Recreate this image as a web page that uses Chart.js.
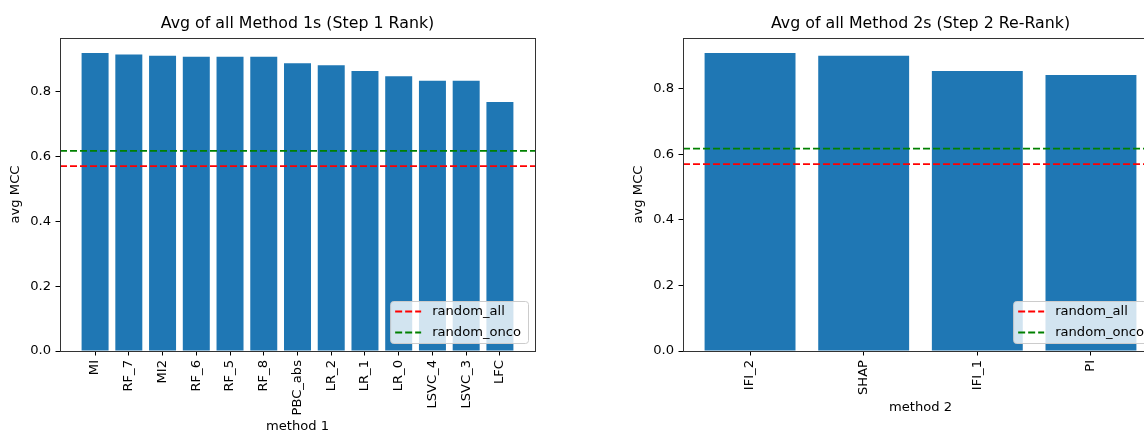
<!DOCTYPE html>
<html>
<head>
<meta charset="utf-8">
<script src="https://cdn.jsdelivr.net/npm/chart.js@4.4.0/dist/chart.umd.min.js"></script>
<style>
html,body{margin:0;padding:0;background:#fff;overflow:hidden;width:1144px;height:433px;position:relative}
#c1{position:absolute;left:0;top:0}
#c2{position:absolute;left:623px;top:0}
</style>
</head>
<body>
<canvas id="c1" width="545" height="433"></canvas>
<canvas id="c2" width="545" height="433"></canvas>
<script>
// values
const m1Labels = ['MI','RF_7','MI2','RF_6','RF_5','RF_8','PBC_abs','LR_2','LR_1','LR_0','LSVC_4','LSVC_3','LFC'];
const m1Values = [0.919,0.914,0.910,0.907,0.907,0.907,0.887,0.881,0.863,0.847,0.833,0.833,0.768];
const m2Labels = ['IFI_2','SHAP','IFI_1','PI'];
const m2Values = [0.909,0.900,0.854,0.842];
const randomAll = 0.570;
const randomOnco = 0.617;
const yTicks = [0.0,0.2,0.4,0.6,0.8];

const FONT = 'DejaVu Sans';
const FS = 13.1;
Chart.defaults.font.family = FONT;
Chart.defaults.color = '#000';

// title centred over the plot area (like matplotlib)
const titlePlugin = {
  id: 'axTitle',
  afterDraw(chart, args, opts) {
    const {ctx, chartArea} = chart;
    ctx.save();
    ctx.font = '15.8px ' + FONT;
    ctx.fillStyle = '#000';
    ctx.textAlign = 'center';
    ctx.textBaseline = 'middle';
    ctx.fillText(opts.text, (chartArea.left + chartArea.right) / 2, 24);
    ctx.restore();
  }
};

// four spines + legend box in lower right
const framePlugin = {
  id: 'frame',
  afterDatasetsDraw(chart) {
    const {ctx, chartArea} = chart;
    ctx.save();
    ctx.strokeStyle = '#333';
    ctx.lineWidth = 1;
    ctx.strokeRect(Math.round(chartArea.left) + 0.5, Math.round(chartArea.top) + 0.5,
      Math.round(chartArea.right - chartArea.left), Math.round(chartArea.bottom - chartArea.top));

    // legend
    const items = chart.data.datasets.filter(d => d.type === 'line');
    ctx.font = FS + 'px ' + FONT;
    let tw = 0;
    items.forEach(d => { tw = Math.max(tw, ctx.measureText(d.label).width); });
    const w = tw + 49, h = 42;
    const x = chartArea.right - 7 - w, y = chartArea.bottom - 8 - h;
    ctx.beginPath();
    ctx.roundRect(x + 0.5, y + 0.5, w, h, 3);
    ctx.fillStyle = 'rgba(255,255,255,0.8)';
    ctx.fill();
    ctx.strokeStyle = '#cccccc';
    ctx.stroke();
    items.forEach((d, i) => {
      const cy = y + 10.5 + i * 21;
      ctx.beginPath();
      ctx.setLineDash(d.borderDash);
      ctx.strokeStyle = d.borderColor;
      ctx.lineWidth = d.borderWidth;
      ctx.moveTo(x + 5, cy);
      ctx.lineTo(x + 31, cy);
      ctx.stroke();
      ctx.setLineDash([]);
      ctx.fillStyle = '#000';
      ctx.textAlign = 'left';
      ctx.textBaseline = 'middle';
      ctx.fillText(d.label, x + 42, cy);
    });
    ctx.restore();
  }
};

function makeChart(id, title, xTitle, labels, values, xTitlePad) {
  const n = labels.length;
  const margin = 0.05 * (n - 1 + 0.8);
  const xMin = -0.4 - margin, xMax = n - 1 + 0.4 + margin;
  const yMax = Math.max(...values) * 1.05;
  const tickFont = {family: FONT, size: FS};
  return new Chart(document.getElementById(id), {
    type: 'bar',
    data: {
      datasets: [
        {type: 'line', label: 'random_all', data: [{x: xMin, y: randomAll}, {x: xMax, y: randomAll}],
         borderColor: '#ff0000', borderWidth: 1.9, borderDash: [7, 3], pointRadius: 0, order: 1},
        {type: 'line', label: 'random_onco', data: [{x: xMin, y: randomOnco}, {x: xMax, y: randomOnco}],
         borderColor: '#008000', borderWidth: 1.9, borderDash: [7, 3], pointRadius: 0, order: 0},
        {type: 'bar', label: 'avg MCC', data: values.map((v, i) => ({x: i, y: v})),
         backgroundColor: '#1f77b4', borderWidth: 0, barPercentage: 0.8, categoryPercentage: 1.0, order: 2}
      ]
    },
    options: {
      responsive: false,
      animation: false,
      devicePixelRatio: 1,
      layout: {padding: {left: 0, right: 10, top: 38, bottom: 0}},
      plugins: {
        legend: {display: false},
        tooltip: {enabled: false},
        axTitle: {text: title}
      },
      scales: {
        x: {
          type: 'linear', min: xMin, max: xMax, bounds: 'data', offset: false,
          afterBuildTicks: s => { s.ticks = labels.map((_, i) => ({value: i})); },
          afterFit: s => { s.height = 82; },
          grid: {display: true, drawOnChartArea: false, offset: false, tickLength: 4.5, tickColor: '#000'},
          border: {display: true, color: '#333'},
          ticks: {autoSkip: false, minRotation: 90, maxRotation: 90, padding: 4.5, font: tickFont,
                  callback: v => labels[v]},
          title: {display: true, text: xTitle, font: tickFont, padding: {top: 0, bottom: xTitlePad}}
        },
        y: {
          type: 'linear', min: 0, max: yMax, bounds: 'data',
          afterBuildTicks: s => { s.ticks = yTicks.map(v => ({value: v})); },
          afterFit: s => { s.width = 60; },
          grid: {display: true, drawOnChartArea: false, tickLength: 4.5, tickColor: '#000'},
          border: {display: true, color: '#333'},
          ticks: {padding: 4.5, font: tickFont, callback: v => v.toFixed(1)},
          title: {display: true, text: 'avg MCC', font: tickFont, padding: {top: 8, bottom: 0}}
        }
      }
    },
    plugins: [titlePlugin, framePlugin]
  });
}

makeChart('c1', 'Avg of all Method 1s (Step 1 Rank)', 'method 1', m1Labels, m1Values, -1.5);
makeChart('c2', 'Avg of all Method 2s (Step 2 Re-Rank)', 'method 2', m2Labels, m2Values, 18);
</script>
</body>
</html>
